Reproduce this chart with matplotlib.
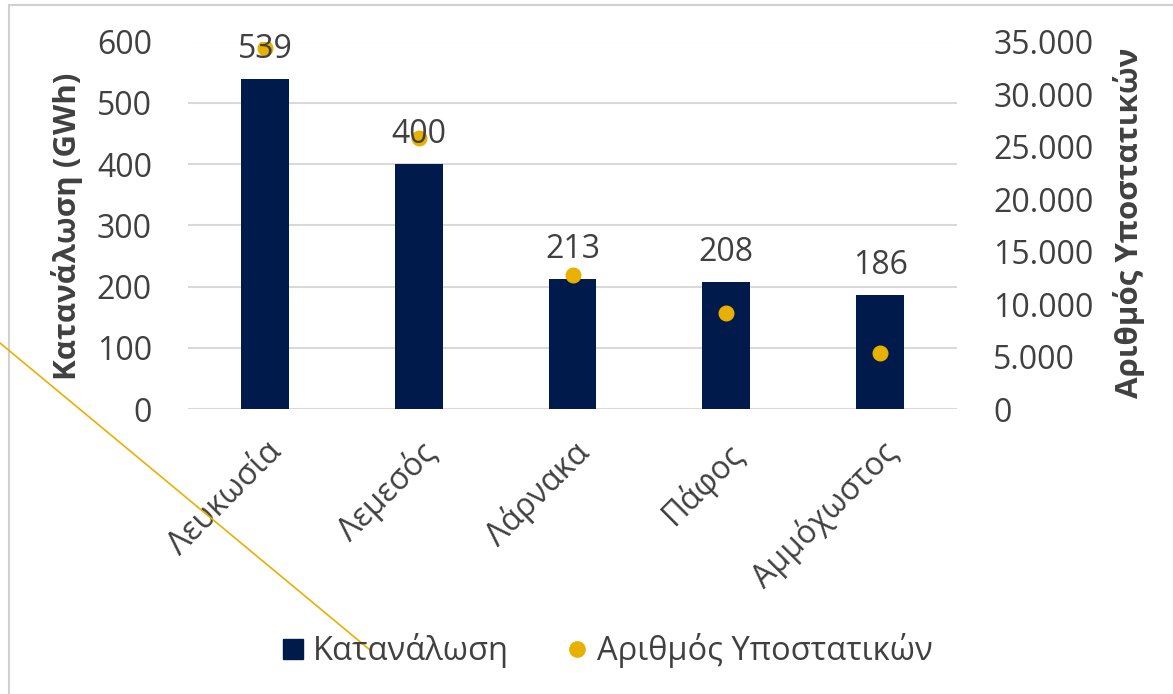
import matplotlib
matplotlib.use("Agg")
import matplotlib.pyplot as plt
import numpy as np
from matplotlib.lines import Line2D
from matplotlib.patches import Rectangle
from matplotlib.ticker import FuncFormatter

plt.rcParams["font.family"] = ["Open Sans", "DejaVu Sans"]

# data
districts = ["Λευκωσία", "Λεμεσός", "Λάρνακα", "Πάφος", "Αμμόχωστος"]
consumption = [539, 400, 213, 208, 186]  # GWh
premises = [34350, 25800, 12800, 9150, 5350]  # number of premises

NAVY = "#001A4B"
GOLD = "#E8B000"
TEXT = "#404040"
GRID = "#D9D9D9"

fig = plt.figure(figsize=(11.73, 6.94), dpi=100)
ax1 = fig.add_axes([188 / 1173, 1 - 409.3 / 694, (957 - 188) / 1173, (409.3 - 41.5) / 694])
ax2 = ax1.twinx()

x = np.arange(len(districts))
ax1.bar(x, consumption, width=0.31, color=NAVY, zorder=2)
ax2.plot(x, premises, "o", color=GOLD, markersize=10.5, zorder=3)

ax1.set_xlim(-0.5, len(districts) - 0.5)
ax1.set_ylim(0, 600)
ax2.set_ylim(0, 35000)
ax1.set_yticks(range(0, 601, 100))
ax2.set_yticks(range(0, 35001, 5000))
ax2.yaxis.set_major_formatter(FuncFormatter(lambda v, p: f"{int(v):,}".replace(",", ".")))

ax1.grid(axis="y", color=GRID, linewidth=1.5, zorder=0)
ax1.set_axisbelow(True)
for a in (ax1, ax2):
    for s in a.spines.values():
        s.set_visible(False)
    a.tick_params(length=0, labelsize=23, labelcolor=TEXT)
ax1.tick_params(axis="y", pad=26)
ax2.tick_params(axis="y", pad=26)

ax1.set_xticks(x)
ax1.set_xticklabels(districts, rotation=45, ha="right", va="top",
                    rotation_mode="anchor")
ax1.tick_params(axis="x", pad=19)

ax1.set_ylabel("Κατανάλωση (GWh)", fontsize=22.5, fontweight="bold", color=TEXT)
ax2.set_ylabel("Αριθμός Υποστατικών", fontsize=22.5, fontweight="bold", color=TEXT,
               rotation=90)
ax1.yaxis.set_label_coords(-0.137, 0.498)
ax2.yaxis.set_label_coords(1.203, 0.508)

# value labels above the bars, drawn above the dots
for xi, v in zip(x, consumption):
    ax2.annotate(str(v), (xi, v), xycoords=ax1.transData, xytext=(0, 15),
                 textcoords="offset points", ha="center", va="baseline",
                 fontsize=23, color=TEXT, zorder=5)

handles = [
    Line2D([], [], marker="s", linestyle="none", color=NAVY, markersize=15),
    Line2D([], [], marker="o", linestyle="none", color=GOLD, markersize=11),
]
fig.legend(handles, ["Κατανάλωση", "Αριθμός Υποστατικών"], loc="center",
           bbox_to_anchor=(606 / 1173, 1 - 651 / 694), ncol=2, frameon=False,
           fontsize=23.5, labelcolor=TEXT, handletextpad=0.2, columnspacing=1.7,
           handlelength=0.8)

# chart frame and the stray connector line seen in the reference
fig.patches.append(Rectangle((9 / 1173, -0.1), 1.2, 1 - 5 / 694 + 0.1,
                             transform=fig.transFigure, fill=False,
                             edgecolor="#D0D0D0", linewidth=1.5))
fig.lines.append(Line2D([0, 370 / 1173], [1 - 343 / 694, 1 - 650 / 694],
                        transform=fig.transFigure, color=GOLD, linewidth=1.2))

fig.savefig("out.png", dpi=100, facecolor="white")
